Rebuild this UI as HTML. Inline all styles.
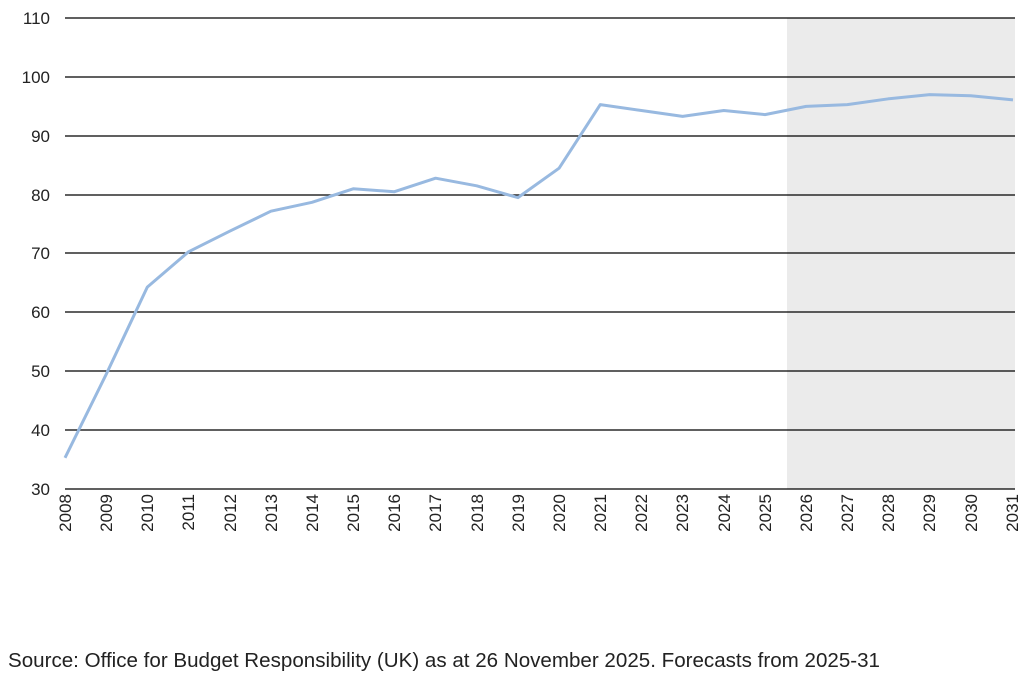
<!DOCTYPE html>
<html><head><meta charset="utf-8"><style>
body{margin:0;background:#fff;}
svg{display:block;font-family:"Liberation Sans",sans-serif;}
</style></head><body>
<svg width="1024" height="681" viewBox="0 0 1024 681" xmlns="http://www.w3.org/2000/svg">
<rect x="787" y="18" width="228" height="471" fill="#ebebeb"/>
<g stroke="#000" stroke-width="1.2">
<line x1="65" x2="1015" y1="18" y2="18"/>
<line x1="65" x2="1015" y1="77" y2="77"/>
<line x1="65" x2="1015" y1="136" y2="136"/>
<line x1="65" x2="1015" y1="195" y2="195"/>
<line x1="65" x2="1015" y1="253" y2="253"/>
<line x1="65" x2="1015" y1="312" y2="312"/>
<line x1="65" x2="1015" y1="371" y2="371"/>
<line x1="65" x2="1015" y1="430" y2="430"/>
<line x1="65" x2="1015" y1="489" y2="489"/>
</g>
<g font-size="17" fill="#222" text-anchor="end">
<text x="50" y="24">110</text><text x="50" y="83">100</text><text x="50" y="142">90</text>
<text x="50" y="201">80</text><text x="50" y="259">70</text><text x="50" y="318">60</text>
<text x="50" y="377">50</text><text x="50" y="436">40</text><text x="50" y="495">30</text>
</g>
<polyline fill="none" stroke="#98b9e0" stroke-width="3" stroke-linejoin="round" points="
65,457.8 106.2,374.3 147.3,287.1 188.5,251.8 229.7,231.2 270.9,211.2 312,202.3 353.2,188.8 394.4,191.7 435.6,178.2 476.7,185.8 517.9,197.6 559.1,168.2 600.3,104.6 641.4,110.5 682.6,116.4 723.8,110.5 765,114.6 806.1,106.4 847.3,104.6 888.5,98.8 929.7,94.6 970.8,95.8 1013,99.9"/>
<g font-size="17" fill="#222" text-anchor="end">
<text transform="translate(71,494) rotate(-90)">2008</text>
<text transform="translate(112,494) rotate(-90)">2009</text>
<text transform="translate(153,494) rotate(-90)">2010</text>
<text transform="translate(194,494) rotate(-90)">2011</text>
<text transform="translate(236,494) rotate(-90)">2012</text>
<text transform="translate(277,494) rotate(-90)">2013</text>
<text transform="translate(318,494) rotate(-90)">2014</text>
<text transform="translate(359,494) rotate(-90)">2015</text>
<text transform="translate(400,494) rotate(-90)">2016</text>
<text transform="translate(441,494) rotate(-90)">2017</text>
<text transform="translate(483,494) rotate(-90)">2018</text>
<text transform="translate(524,494) rotate(-90)">2019</text>
<text transform="translate(565,494) rotate(-90)">2020</text>
<text transform="translate(606,494) rotate(-90)">2021</text>
<text transform="translate(647,494) rotate(-90)">2022</text>
<text transform="translate(688,494) rotate(-90)">2023</text>
<text transform="translate(730,494) rotate(-90)">2024</text>
<text transform="translate(771,494) rotate(-90)">2025</text>
<text transform="translate(812,494) rotate(-90)">2026</text>
<text transform="translate(853,494) rotate(-90)">2027</text>
<text transform="translate(894,494) rotate(-90)">2028</text>
<text transform="translate(935,494) rotate(-90)">2029</text>
<text transform="translate(977,494) rotate(-90)">2030</text>
<text transform="translate(1018,494) rotate(-90)">2031</text>
</g>
<text x="8" y="667" font-size="20" fill="#222" textLength="872" lengthAdjust="spacingAndGlyphs">Source: Office for Budget Responsibility (UK) as at 26 November 2025. Forecasts from 2025-31</text>
</svg>
</body></html>
